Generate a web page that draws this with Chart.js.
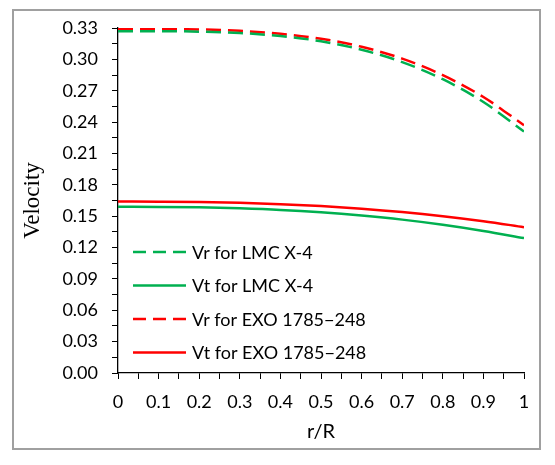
<!DOCTYPE html>
<html>
<head>
<meta charset="utf-8">
<script src="https://cdn.jsdelivr.net/npm/chart.js@4.4.1/dist/chart.umd.min.js"></script>
<style>
  html, body { margin: 0; padding: 0; background: #fff; }
  #wrap { position: relative; width: 555px; height: 465px; }
  #frame { position: absolute; left: 12px; top: 9px; width: 529px; height: 441px;
           border: 2px solid #a0a0a0; box-sizing: border-box; pointer-events: none; }
  canvas { position: absolute; left: 0; top: 0; }
</style>
</head>
<body>
<div id="wrap">
  <canvas id="grafico" width="555" height="465"></canvas>
  <div id="frame"></div>
</div>
<script>
// dados
const raio = [0, 0.1, 0.2, 0.3, 0.4, 0.5, 0.6, 0.7, 0.8, 0.9, 1];
const vrLMC = [0.327, 0.327, 0.3265, 0.3252, 0.3223, 0.3173, 0.3092, 0.2974, 0.281, 0.2592, 0.231];
const vtLMC = [0.159, 0.1589, 0.1585, 0.1575, 0.156, 0.1537, 0.1506, 0.1467, 0.1418, 0.1359, 0.129];
const vrEXO = [0.329, 0.329, 0.3286, 0.3273, 0.3245, 0.3197, 0.312, 0.3007, 0.2849, 0.264, 0.237];
const vtEXO = [0.164, 0.1639, 0.1636, 0.1628, 0.1615, 0.1597, 0.1572, 0.154, 0.15, 0.1452, 0.1395];
const nomes = ["Vr for LMC X-4", "Vt for LMC X-4", "Vr for EXO 1785\u2212248", "Vt for EXO 1785\u2212248"];

const verde = "#00b050";
const vermelho = "#ff0000";

function pontos(valores) {
    return raio.map((r, i) => ({ x: r, y: valores[i] }));
}

// legenda desenhada dentro da área do gráfico
const legendaInterna = {
    id: "legendaInterna",
    afterDraw(chart) {
        const ctx = chart.ctx;
        const area = chart.chartArea;
        ctx.save();
        chart.data.datasets.forEach((ds, i) => {
            const y = area.top + 224 + i * 33.5;
            const x0 = area.left + 15;
            ctx.strokeStyle = ds.borderColor;
            ctx.lineWidth = ds.borderWidth;
            ctx.setLineDash(ds.borderDash.length ? [13, 7] : []);
            ctx.beginPath();
            ctx.moveTo(x0, y);
            ctx.lineTo(x0 + 53, y);
            ctx.stroke();
            ctx.setLineDash([]);
            ctx.fillStyle = "#000";
            ctx.font = "18px Lato";
            ctx.textBaseline = "middle";
            ctx.fillText(ds.label, x0 + 59, y + 1);
        });
        ctx.restore();
    }
};

const config = {
    type: "line",
    data: {
        datasets: [
            { label: nomes[0], data: pontos(vrLMC), borderColor: verde, borderDash: [15, 7], borderWidth: 2.5 },
            { label: nomes[1], data: pontos(vtLMC), borderColor: verde, borderDash: [], borderWidth: 2.5 },
            { label: nomes[2], data: pontos(vrEXO), borderColor: vermelho, borderDash: [15, 7], borderWidth: 2.5 },
            { label: nomes[3], data: pontos(vtEXO), borderColor: vermelho, borderDash: [], borderWidth: 2.5 }
        ]
    },
    options: {
        responsive: false,
        animation: false,
        elements: { point: { radius: 0 }, line: { cubicInterpolationMode: "monotone", fill: false } },
        layout: { padding: { left: 0, top: 28, right: 31, bottom: 0 } },
        plugins: { legend: { display: false }, tooltip: { enabled: false } },
        scales: {
            x: {
                type: "linear",
                min: 0,
                max: 1,
                afterFit: s => { s.height = 92; },
                border: { color: "#000", width: 1.3 },
                grid: { drawOnChartArea: false, tickLength: 6, color: "#000" },
                ticks: {
                    stepSize: 0.05,
                    autoSkip: false,
                    maxRotation: 0,
                    padding: 12,
                    color: "#000",
                    font: { family: "Lato", size: 18 },
                    callback: (v, i) => i % 2 === 0 ? String(Math.round(v * 10) / 10) : ""
                },
                title: {
                    display: true,
                    text: "r/R",
                    color: "#000",
                    font: { family: "Lato", size: 20 },
                    padding: { top: 0, bottom: 21 }
                }
            },
            y: {
                min: 0,
                max: 0.33,
                afterFit: s => { s.width = 118; },
                border: { color: "#000", width: 1.3 },
                grid: { drawOnChartArea: false, tickLength: 6, color: "#000" },
                ticks: {
                    stepSize: 0.015,
                    autoSkip: false,
                    padding: 14,
                    color: "#000",
                    font: { family: "Lato", size: 18 },
                    callback: (v, i) => i % 2 === 0 ? v.toFixed(2) : ""
                },
                title: {
                    display: true,
                    text: "Velocity",
                    color: "#000",
                    font: { family: "Liberation Serif", size: 23 },
                    padding: { top: 19, bottom: 0 }
                }
            }
        }
    },
    plugins: [legendaInterna]
};

new Chart(document.getElementById("grafico").getContext("2d"), config);
</script>
</body>
</html>
